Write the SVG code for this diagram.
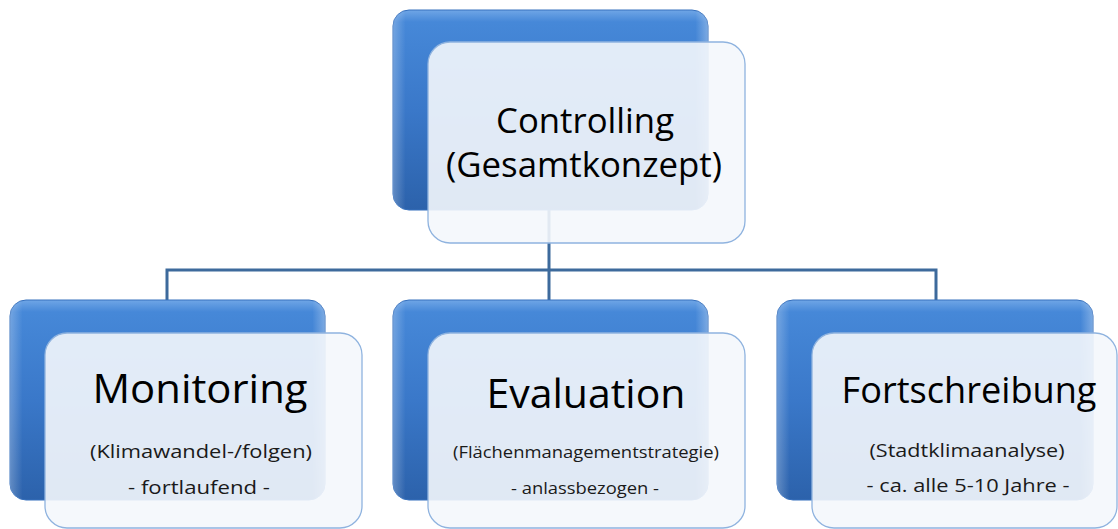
<svg xmlns="http://www.w3.org/2000/svg" width="1118" height="529" viewBox="0 0 1118 529">
<defs>
<linearGradient id="blueG" x1="0" y1="0" x2="0" y2="1">
<stop offset="0" stop-color="#6fa6e6"/>
<stop offset="0.06" stop-color="#4688d8"/>
<stop offset="0.5" stop-color="#3a78c9"/>
<stop offset="1" stop-color="#2c62ab"/>
</linearGradient>
<linearGradient id="blueEdge" x1="0" y1="0" x2="1" y2="0">
<stop offset="0" stop-color="#ffffff" stop-opacity="0.25"/>
<stop offset="0.04" stop-color="#ffffff" stop-opacity="0"/>
<stop offset="0.96" stop-color="#ffffff" stop-opacity="0"/>
<stop offset="1" stop-color="#ffffff" stop-opacity="0.3"/>
</linearGradient>
<style>
.blue{fill:url(#blueG);stroke:#3670bd;stroke-width:1}
.edge{fill:url(#blueEdge)}
.card{fill:#f4f7fc;fill-opacity:0.9;stroke:#8fb3df;stroke-width:1.3}
.conn{fill:none;stroke:#3d6a9c;stroke-width:3}
.t{font-family:"Open Sans","Liberation Sans",sans-serif;fill:#000;text-anchor:middle}
.s{font-family:"Open Sans","Liberation Sans",sans-serif;fill:#1a1a1a;text-anchor:middle}
</style>
</defs>
<g id="connectors">
<path class="conn" d="M549 210 V300 M167 300 V270 H936 V300"/>
</g>
<g id="node-controlling">
<rect class="blue" x="393" y="10" width="315" height="200" rx="16"/>
<rect class="edge" x="393" y="10" width="315" height="200" rx="16"/>
<rect class="card" x="428" y="42" width="317" height="201" rx="22"/>
<text class="t" x="585" y="133" font-size="35" textLength="178" lengthAdjust="spacingAndGlyphs">Controlling</text>
<text class="t" x="584" y="177" font-size="35" textLength="276" lengthAdjust="spacingAndGlyphs">(Gesamtkonzept)</text>
</g>
<g id="node-monitoring">
<rect class="blue" x="10" y="300" width="315" height="200" rx="16"/>
<rect class="edge" x="10" y="300" width="315" height="200" rx="16"/>
<rect class="card" x="45" y="333" width="317" height="195" rx="22"/>
<text class="t" x="200" y="403" font-size="40" textLength="215" lengthAdjust="spacingAndGlyphs">Monitoring</text>
<text class="s" x="201" y="458" font-size="19" textLength="222" lengthAdjust="spacingAndGlyphs">(Klimawandel-/folgen)</text>
<text class="s" x="199" y="494" font-size="19" textLength="142" lengthAdjust="spacingAndGlyphs">- fortlaufend -</text>
</g>
<g id="node-evaluation">
<rect class="blue" x="393" y="300" width="315" height="200" rx="16"/>
<rect class="edge" x="393" y="300" width="315" height="200" rx="16"/>
<rect class="card" x="428" y="333" width="317" height="195" rx="22"/>
<text class="t" x="586" y="408" font-size="40" textLength="199" lengthAdjust="spacingAndGlyphs">Evaluation</text>
<text class="s" x="586" y="458" font-size="16" textLength="266" lengthAdjust="spacingAndGlyphs">(Flächenmanagementstrategie)</text>
<text class="s" x="585" y="494" font-size="16" textLength="148" lengthAdjust="spacingAndGlyphs">- anlassbezogen -</text>
</g>
<g id="node-fortschreibung">
<rect class="blue" x="777" y="300" width="316" height="200" rx="16"/>
<rect class="edge" x="777" y="300" width="316" height="200" rx="16"/>
<rect class="card" x="812" y="333" width="305" height="195" rx="22"/>
<text class="t" x="969" y="403" font-size="37" textLength="255" lengthAdjust="spacingAndGlyphs">Fortschreibung</text>
<text class="s" x="967" y="457" font-size="19" textLength="195" lengthAdjust="spacingAndGlyphs">(Stadtklimaanalyse)</text>
<text class="s" x="968" y="492" font-size="19" textLength="203" lengthAdjust="spacingAndGlyphs">- ca. alle 5-10 Jahre -</text>
</g>
</svg>
